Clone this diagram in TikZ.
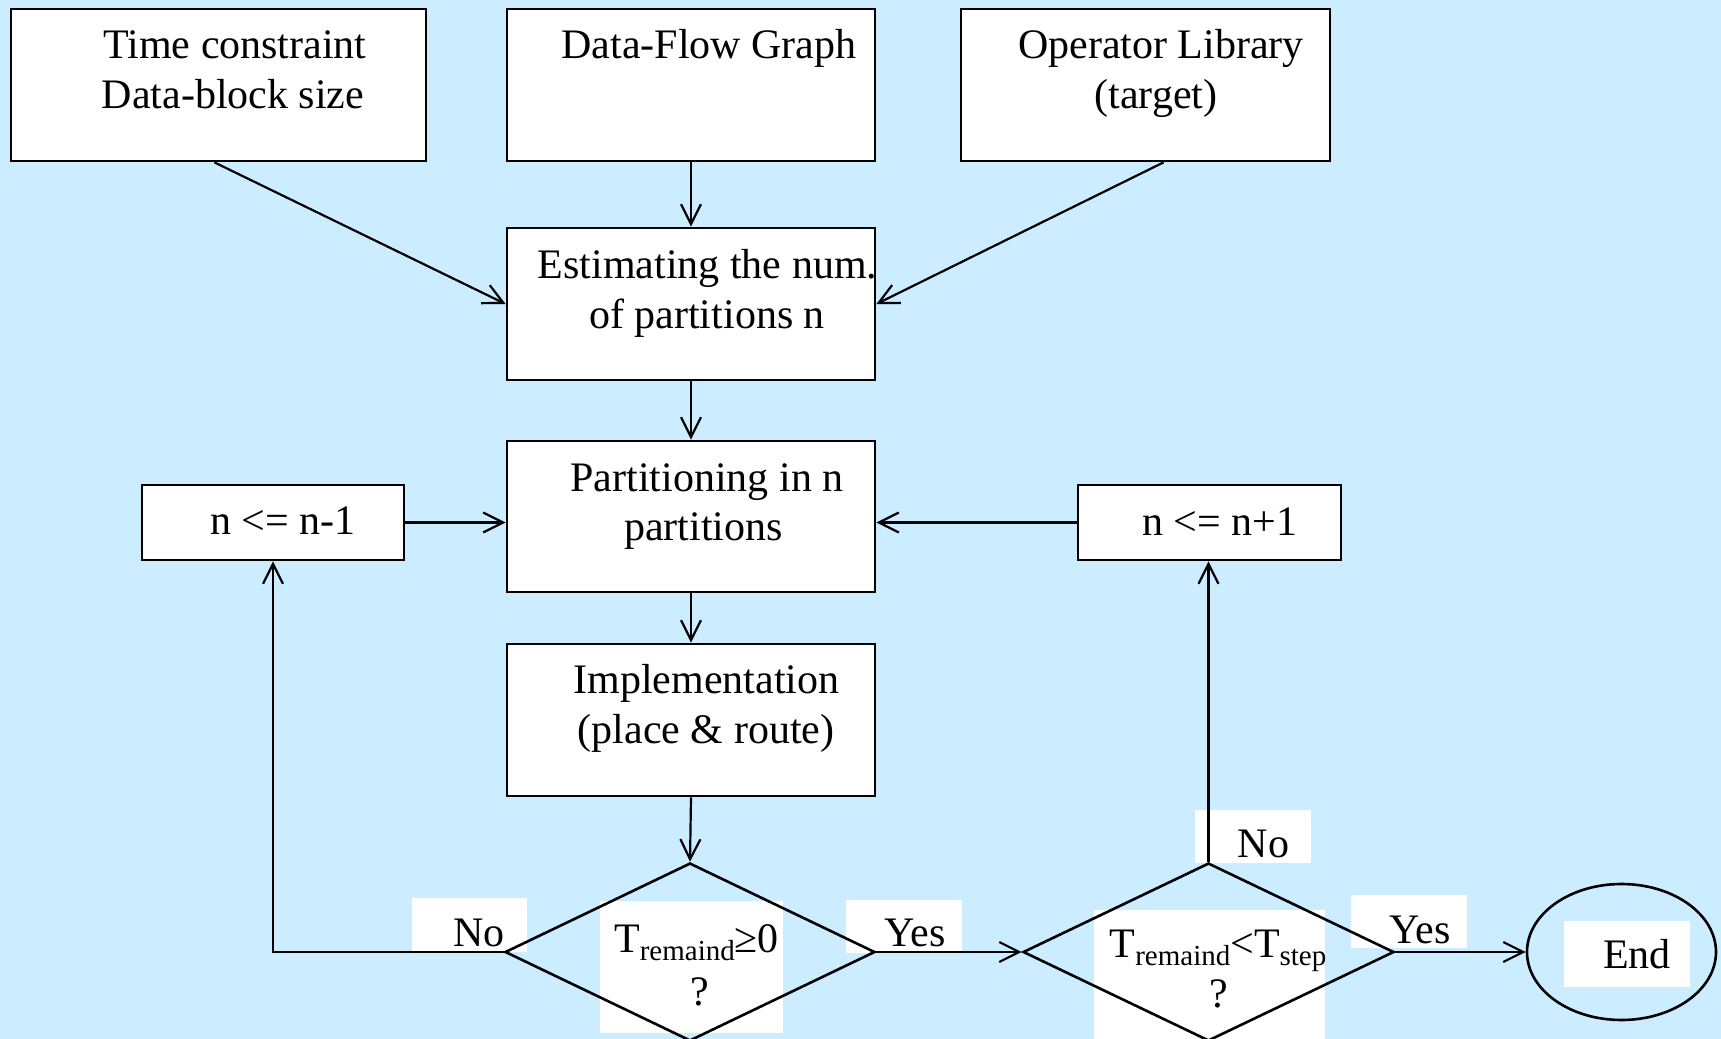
\documentclass[tikz,border=0pt]{standalone}
\usepackage{fontspec}
\setmainfont{Liberation Serif}
\usetikzlibrary{arrows.meta,shapes.geometric}
\definecolor{bgblue}{RGB}{204,236,255}
% lowered, smaller subscript text
\newcommand\lowsub[1]{\raisebox{-4pt}{\fontsize{14.5pt}{15pt}\selectfont #1}}

\begin{document}
\begin{tikzpicture}[x=0.5pt,y=-0.5pt,
  box/.style={draw, fill=white, line width=1.4pt, inner sep=0pt},
  decision/.style={diamond, draw, line width=1.3pt, inner sep=0pt,
                   minimum width=185pt, minimum height=89pt},
  lbl/.style={inner sep=0pt, anchor=base, font=\fontsize{21pt}{25pt}\selectfont},
  flow/.style={line width=1.1pt, -{Straight Barb[length=10pt,width=10pt]}}]

% background
\fill[bgblue] (0,0) rectangle (1721,1039);
\useasboundingbox (0,0) rectangle (1721,1039);

% white label patches
\fill[white] (412,898) rectangle (527,952);
\fill[white] (846,900) rectangle (962,953);
\fill[white] (600,901) rectangle (783,1033);
\fill[white] (1195,810) rectangle (1311,863);
\fill[white] (1094,910) rectangle (1325,1039);
\fill[white] (1351,895) rectangle (1467,948);
\fill[white] (1564,921) rectangle (1690,987);

% process boxes
\node[box, minimum width=207.5pt, minimum height=76pt] (src1) at (218.5,85) {};
\node[box, minimum width=184pt, minimum height=76pt] (src2) at (691,85) {};
\node[box, minimum width=184.5pt, minimum height=76pt] (src3) at (1145.5,85) {};
\node[box, minimum width=184pt, minimum height=76pt] (est) at (691,304) {};
\node[box, minimum width=184pt, minimum height=75.5pt] (part) at (691,516.5) {};
\node[box, minimum width=184pt, minimum height=76pt] (impl) at (691,720) {};
\node[box, minimum width=131pt, minimum height=37.5pt] (dec) at (273,522.5) {};
\node[box, minimum width=131.5pt, minimum height=37.5pt] (inc) at (1209.5,522.5) {};

% decisions and terminal
\node[decision] (d1) at (690,952) {};
\node[decision, minimum width=185.5pt] (d2) at (1208.5,952) {};
\node[ellipse, draw, line width=1.3pt, inner sep=0pt,
      minimum width=94.5pt, minimum height=68pt] (stop) at (1621.5,952) {};

% connectors
\draw[flow] ([xshift=-2pt]src1.south) -- (est.west);
\draw[flow] (src2.south) -- (est.north);
\draw[flow] ([xshift=9pt]src3.south) -- (est.east);
\draw[flow] (est.south) -- (part.north);
\draw[flow] (dec.east) -- (dec.east -| part.west);
\draw[flow] (inc.west) -- (inc.west -| part.east);
\draw[flow] (part.south) -- (impl.north);
\draw[flow] (impl.south) -- (d1.north);
\draw[flow] (d1.west) -- (d1.west -| dec.south) -- (dec.south);
\draw[flow] (d1.east) -- (d2.west);
\draw[flow] (d2.north) -- (d2.north |- inc.south);
\draw[flow] (d2.east) -- (stop.west);

% texts
\node[lbl] (t1a) at (235,58) {Time constraint};
\node[lbl] (t1b) at (233,108) {Data-block size};
\node[lbl] (t2a) at (709,58) {Data-Flow Graph};
\node[lbl] (t3a) at (1161,58) {Operator Library};
\node[lbl] (t3b) at (1156,108) {(target)};
\node[lbl] (t4a) at (707.5,278) {Estimating the num.};
\node[lbl] (t4b) at (707,328) {of partitions n};
\node[lbl] (t5a) at (707,491) {Partitioning in n};
\node[lbl] (t5b) at (703.5,540) {partitions};
\node[lbl] (t6a) at (706.5,693) {Implementation};
\node[lbl] (t6b) at (706,743) {(place \& route)};
\node[lbl] (t7) at (283,534) {n <= n-1};
\node[lbl] (t8) at (1220,535) {n <= n+1};
\node[lbl] (no1) at (479,946) {No};
\node[lbl] (yes1) at (915,946) {Yes};
\node[lbl] (q1a) at (696.5,952) {T\lowsub{remaind}≥0};
\node[lbl] (q1b) at (700,1005) {?};
\node[lbl] (no2) at (1263.5,857) {No};
\node[lbl] (q2a) at (1218,957) {T\lowsub{remaind}<T\lowsub{step}};
\node[lbl] (q2b) at (1219,1007) {?};
\node[lbl] (yes2) at (1420,943) {Yes};
\node[lbl] (endt) at (1637,968) {End};
\end{tikzpicture}
\end{document}
